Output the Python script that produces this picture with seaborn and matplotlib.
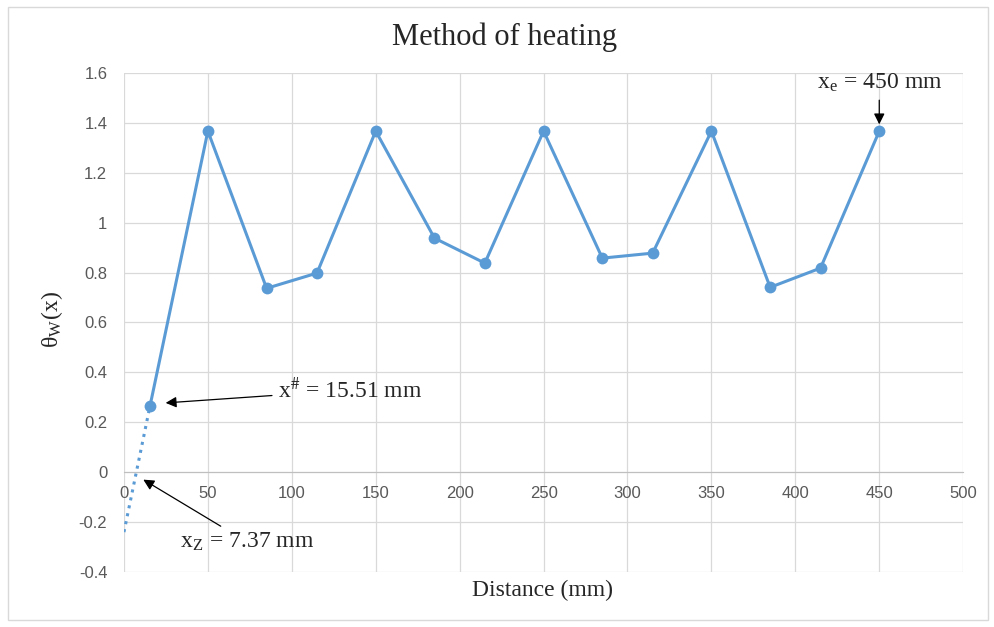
import numpy as np
import pandas as pd
import matplotlib
matplotlib.use('Agg')
import matplotlib.pyplot as plt
from matplotlib.patches import Rectangle
import seaborn as sns

# data
distance = [15.51, 50, 85, 115, 150, 185, 215, 250, 285, 315, 350, 385, 415, 450]
theta_w = [0.265, 1.367, 0.737, 0.798, 1.367, 0.938, 0.838, 1.367, 0.858, 0.878,
           1.367, 0.741, 0.818, 1.367]
# extrapolated part down to x = 0
extrap_x = [0, 15.51]
extrap_y = [-0.24, 0.265]

df = pd.DataFrame({'Distance': distance, 'theta': theta_w})
df_ext = pd.DataFrame({'Distance': extrap_x, 'theta': extrap_y})

sns.set_style('white')
plt.rcParams['mathtext.fontset'] = 'stix'
serif = ['Liberation Serif', 'DejaVu Serif']
blue = '#5B9BD5'
grey = '#595959'

fig = plt.figure(figsize=(9.94, 6.27), dpi=100)
ax = fig.add_axes([0.1247, 0.0877, 0.969 - 0.1247, 0.8836 - 0.0877])

sns.lineplot(data=df_ext, x='Distance', y='theta', ax=ax, color=blue,
             linestyle=':', linewidth=2.2)
sns.lineplot(data=df, x='Distance', y='theta', ax=ax, color=blue,
             linewidth=2.2, marker='o', markersize=8.5, markeredgewidth=0)

ax.set_xlim(0, 500)
ax.set_ylim(-0.4, 1.6)
ax.set_xticks(np.arange(0, 501, 50))
ax.set_yticks(np.arange(-0.4, 1.61, 0.2))
ax.yaxis.set_major_formatter(matplotlib.ticker.FuncFormatter(lambda v, p: '%g' % round(v, 1)))
ax.grid(True, color='#d9d9d9', linewidth=0.9)
ax.set_axisbelow(True)
for s in ['top', 'right', 'left']:
    ax.spines[s].set_visible(False)
ax.spines['bottom'].set_position(('data', 0))
ax.spines['bottom'].set_color('#bfbfbf')
ax.tick_params(length=0, labelsize=12, labelcolor=grey)
ax.tick_params(axis='x', pad=10)
ax.tick_params(axis='y', pad=12)
for lab in ax.get_xticklabels() + ax.get_yticklabels():
    lab.set_fontfamily(['Liberation Sans', 'DejaVu Sans'])

ax.set_xlabel('')
ax.set_ylabel('')
fig.text(0.5455, 0.058, 'Distance (mm)', ha='center', va='center',
         fontsize=17, family=serif)
fig.text(0.052, 0.49, r'θ$_{\mathregular{W}}$(x)', ha='center', va='center',
         fontsize=17, rotation=90, family=serif)
fig.text(0.508, 0.94, 'Method of heating', ha='center', va='center',
         fontsize=22, family=serif)

arrow = dict(arrowstyle='-|>', color='black', lw=0.9, mutation_scale=16)
ax.annotate(r'x$^{\#}$ = 15.51 mm', xy=(23.2, 0.277), xytext=(91.8, 0.329),
            fontsize=17, family=serif, va='center', arrowprops=arrow)
ax.annotate(r'x$_{\mathregular{Z}}$ = 7.37 mm', xy=(10.1, -0.024), xytext=(33.4, -0.28),
            fontsize=17, family=serif, va='center', arrowprops=arrow)
ax.annotate(r'x$_{\mathregular{e}}$ = 450 mm', xy=(450, 1.383), xytext=(450, 1.56),
            fontsize=17, family=serif, ha='center', va='center', arrowprops=arrow)

fig.patches.append(Rectangle((0.008, 0.011), 0.986, 0.978, transform=fig.transFigure,
                             fill=False, edgecolor='#d9d9d9', linewidth=1))

fig.savefig('out.png', dpi=100)
